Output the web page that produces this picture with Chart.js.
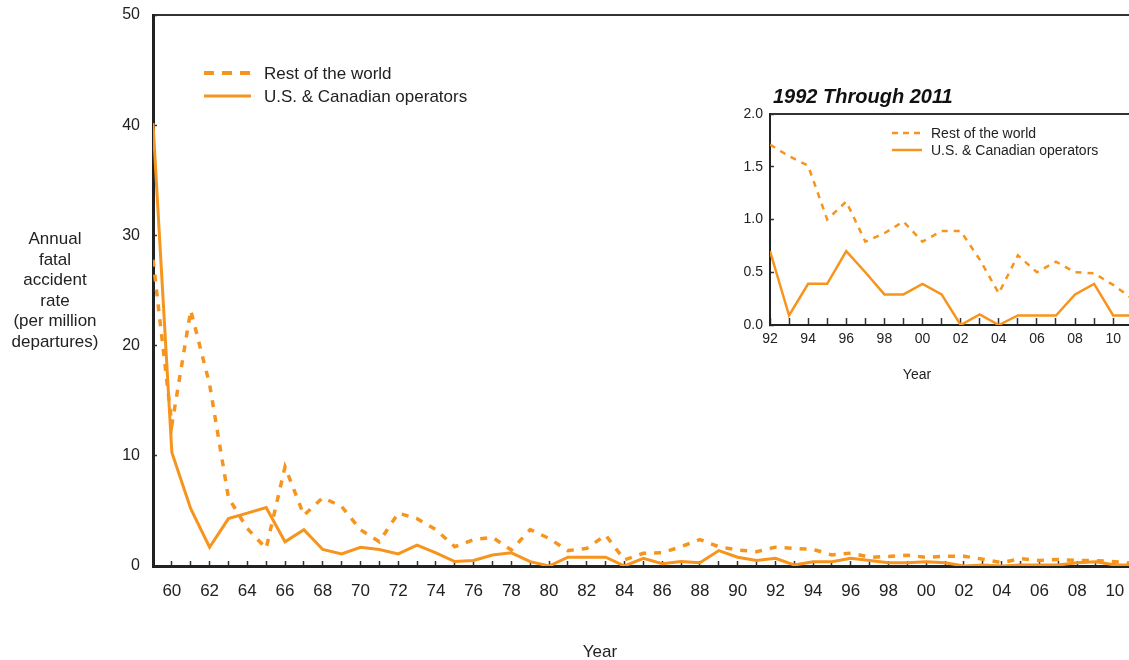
<!DOCTYPE html>
<html lang="en">
<head>
    <meta charset="UTF-8">
    <title>Annual fatal accident rate</title>
    <script src="https://cdn.jsdelivr.net/npm/chart.js"></script>
    <style>
        body { margin: 0; background: #fff; font-family: "Liberation Sans", Arial, sans-serif; color: #222; }
        #page { position: relative; width: 1129px; height: 660px; overflow: hidden; }
        #main-box { position: absolute; left: 0; top: 0; width: 1129px; height: 660px; }
        #inset-box { position: absolute; left: 690px; top: 60px; width: 439px; height: 340px; }
        .note { position: absolute; white-space: nowrap; }
        #y-title { left: 5px; top: 229px; width: 100px; text-align: center; font-size: 17px; line-height: 20.6px; }
        #x-title { left: 560px; top: 642px; width: 80px; text-align: center; font-size: 17px; }
        #inset-title { left: 773px; top: 85px; font-size: 20px; font-weight: bold; font-style: italic; color: #111; }
        #inset-x-title { left: 887px; top: 366px; width: 60px; text-align: center; font-size: 14px; }
    </style>
</head>
<body>
<div id="page">
    <div id="main-box"><canvas id="mainChart"></canvas></div>
    <div id="inset-box"><canvas id="insetChart"></canvas></div>
    <div class="note" id="y-title">Annual<br>fatal<br>accident<br>rate<br>(per million<br>departures)</div>
    <div class="note" id="x-title">Year</div>
    <div class="note" id="inset-title">1992 Through 2011</div>
    <div class="note" id="inset-x-title">Year</div>
</div>

<script>
    // data
    var years = [1959, 1960, 1961, 1962, 1963, 1964, 1965, 1966, 1967, 1968, 1969,
                 1970, 1971, 1972, 1973, 1974, 1975, 1976, 1977, 1978, 1979,
                 1980, 1981, 1982, 1983, 1984, 1985, 1986, 1987, 1988, 1989,
                 1990, 1991, 1992, 1993, 1994, 1995, 1996, 1997, 1998, 1999,
                 2000, 2001, 2002, 2003, 2004, 2005, 2006, 2007, 2008, 2009,
                 2010, 2011];
    var restOfWorld = [27.8, 12.8, 23.2, 16.5, 6.2, 3.4, 1.6, 9.0, 4.6, 6.2, 5.4,
                       3.3, 2.2, 4.8, 4.3, 3.3, 1.75, 2.4, 2.6, 1.45, 3.3,
                       2.5, 1.4, 1.6, 2.8, 0.55, 1.15, 1.2, 1.75, 2.4, 1.75,
                       1.45, 1.3, 1.71, 1.6, 1.51, 1.0, 1.17, 0.79, 0.87, 0.98,
                       0.79, 0.89, 0.89, 0.62, 0.3, 0.66, 0.5, 0.6, 0.5, 0.49,
                       0.38, 0.25];
    var usCanada = [40.2, 10.3, 5.2, 1.7, 4.3, 4.8, 5.3, 2.2, 3.3, 1.5, 1.1,
                    1.7, 1.5, 1.1, 1.9, 1.2, 0.4, 0.5, 1.0, 1.2, 0.4,
                    0, 0.8, 0.8, 0.8, 0, 0.7, 0.2, 0.4, 0.3, 1.4,
                    0.8, 0.5, 0.7, 0.09, 0.39, 0.39, 0.7, 0.5, 0.29, 0.29,
                    0.39, 0.29, 0, 0.1, 0, 0.09, 0.09, 0.09, 0.29, 0.39,
                    0.09, 0.09];
    var seriesNames = ['Rest of the world', 'U.S. & Canadian operators'];
    var mainYTicks = [0, 10, 20, 30, 40, 50];
    var insetYTicks = [0, 0.5, 1.0, 1.5, 2.0];
    var insetStart = 1992;

    var orange = '#F7941D';
    var ink = '#222';

    // draws a small legend (line sample + label) at a fixed spot
    var lineLegend = {
        id: 'lineLegend',
        afterDraw: function(chart, args, opts) {
            var ctx = chart.ctx;
            ctx.save();
            ctx.font = opts.font;
            ctx.textBaseline = 'middle';
            chart.data.datasets.forEach(function(ds, i) {
                var y = opts.y + i * opts.rowGap;
                ctx.strokeStyle = ds.borderColor;
                ctx.lineWidth = opts.widths[i];
                ctx.setLineDash(opts.dashes[i]);
                ctx.beginPath();
                ctx.moveTo(opts.x, y);
                ctx.lineTo(opts.x + opts.sample, y);
                ctx.stroke();
                ctx.setLineDash([]);
                ctx.fillStyle = ink;
                ctx.fillText(ds.label, opts.x + opts.sample + opts.textGap, y + 1);
            });
            ctx.restore();
        }
    };

    function pts(xs, ys) {
        return xs.map(function(x, i) { return { x: x, y: ys[i] }; });
    }

    function yearLabel(v) {
        return v % 2 === 0 ? String(v % 100).padStart(2, '0') : '';
    }

    // no extra room for labels that hang over the plot edges
    function noOverhang(scale) {
        scale.paddingLeft = 0;
        scale.paddingRight = 0;
        scale.paddingTop = 0;
        scale.paddingBottom = 0;
    }

    function makeChart(id, cfg) {
        return new Chart(document.getElementById(id), {
            type: 'line',
            data: {
                datasets: [{
                    label: seriesNames[0],
                    data: pts(cfg.xs, cfg.rest),
                    borderColor: orange,
                    borderWidth: cfg.dashWidth,
                    borderDash: cfg.dash,
                    pointRadius: 0,
                    tension: 0
                }, {
                    label: seriesNames[1],
                    data: pts(cfg.xs, cfg.us),
                    borderColor: orange,
                    borderWidth: cfg.solidWidth,
                    pointRadius: 0,
                    tension: 0
                }]
            },
            options: {
                responsive: true,
                maintainAspectRatio: false,
                animation: false,
                layout: { padding: { top: cfg.top, left: 0, right: 0, bottom: 0 } },
                plugins: {
                    legend: { display: false },
                    tooltip: { enabled: false },
                    lineLegend: cfg.legend
                },
                scales: {
                    x: {
                        type: 'linear',
                        min: cfg.xs[0],
                        max: cfg.xMax,
                        afterBuildTicks: function(scale) {
                            scale.ticks = cfg.xs.filter(function(v) { return v <= cfg.xMax; })
                                .map(function(v) { return { value: v }; });
                        },
                        afterFit: function(scale) { scale.height = cfg.xHeight; noOverhang(scale); },
                        grid: { drawOnChartArea: false, tickLength: cfg.xTick, tickColor: '#333', tickWidth: 1.5 },
                        border: { display: true, color: ink, width: cfg.axisWidth },
                        ticks: {
                            autoSkip: false,
                            maxRotation: 0,
                            padding: cfg.xPad,
                            color: ink,
                            font: { family: 'Liberation Sans', size: cfg.fontSize },
                            callback: yearLabel
                        }
                    },
                    top: {
                        type: 'linear',
                        position: 'top',
                        min: cfg.xs[0],
                        max: cfg.xMax,
                        afterFit: function(scale) { scale.height = 0; noOverhang(scale); },
                        grid: { drawOnChartArea: false, drawTicks: false },
                        border: { display: true, color: '#333', width: 2 },
                        ticks: { display: false }
                    },
                    y: {
                        min: 0,
                        max: cfg.yTicks[cfg.yTicks.length - 1],
                        afterBuildTicks: function(scale) {
                            scale.ticks = cfg.yTicks.map(function(v) { return { value: v }; });
                        },
                        afterFit: function(scale) { scale.width = cfg.yWidth; noOverhang(scale); },
                        grid: { drawOnChartArea: false, tickLength: cfg.yTick, tickColor: '#333', tickWidth: 1.5 },
                        border: { display: true, color: ink, width: cfg.axisWidth },
                        ticks: {
                            padding: cfg.yPad,
                            color: ink,
                            font: { family: 'Liberation Sans', size: cfg.yFontSize },
                            callback: cfg.yFormat
                        }
                    }
                }
            },
            plugins: [lineLegend]
        });
    }

    // main chart, 1959-2011
    makeChart('mainChart', {
        xs: years, rest: restOfWorld, us: usCanada,
        xMax: 2010.75, top: 15, xHeight: 94, yWidth: 153,
        xTick: -5, yTick: -4, xPad: 20, yPad: 17,
        fontSize: 17, yFontSize: 16, axisWidth: 3,
        dash: [7, 8], dashWidth: 3.5, solidWidth: 3,
        yTicks: mainYTicks,
        yFormat: function(v) { return String(v); },
        legend: { x: 204, y: 73, sample: 47, textGap: 13, rowGap: 23,
                  font: '17px "Liberation Sans"', widths: [4, 3], dashes: [[10, 8], []] }
    });

    // inset, 1992-2011
    var cut = years.indexOf(insetStart);
    makeChart('insetChart', {
        xs: years.slice(cut), rest: restOfWorld.slice(cut), us: usCanada.slice(cut),
        xMax: 2010.83, top: 54, xHeight: 75, yWidth: 80,
        xTick: -7, yTick: -4, xPad: 13, yPad: 11,
        fontSize: 14, yFontSize: 14, axisWidth: 2,
        dash: [6, 6], dashWidth: 2.5, solidWidth: 2.5,
        yTicks: insetYTicks,
        yFormat: function(v) { return v.toFixed(1); },
        legend: { x: 202, y: 73, sample: 30, textGap: 9, rowGap: 17,
                  font: '14px "Liberation Sans"', widths: [2.5, 2.5], dashes: [[6, 5], []] }
    });
</script>
</body>
</html>
